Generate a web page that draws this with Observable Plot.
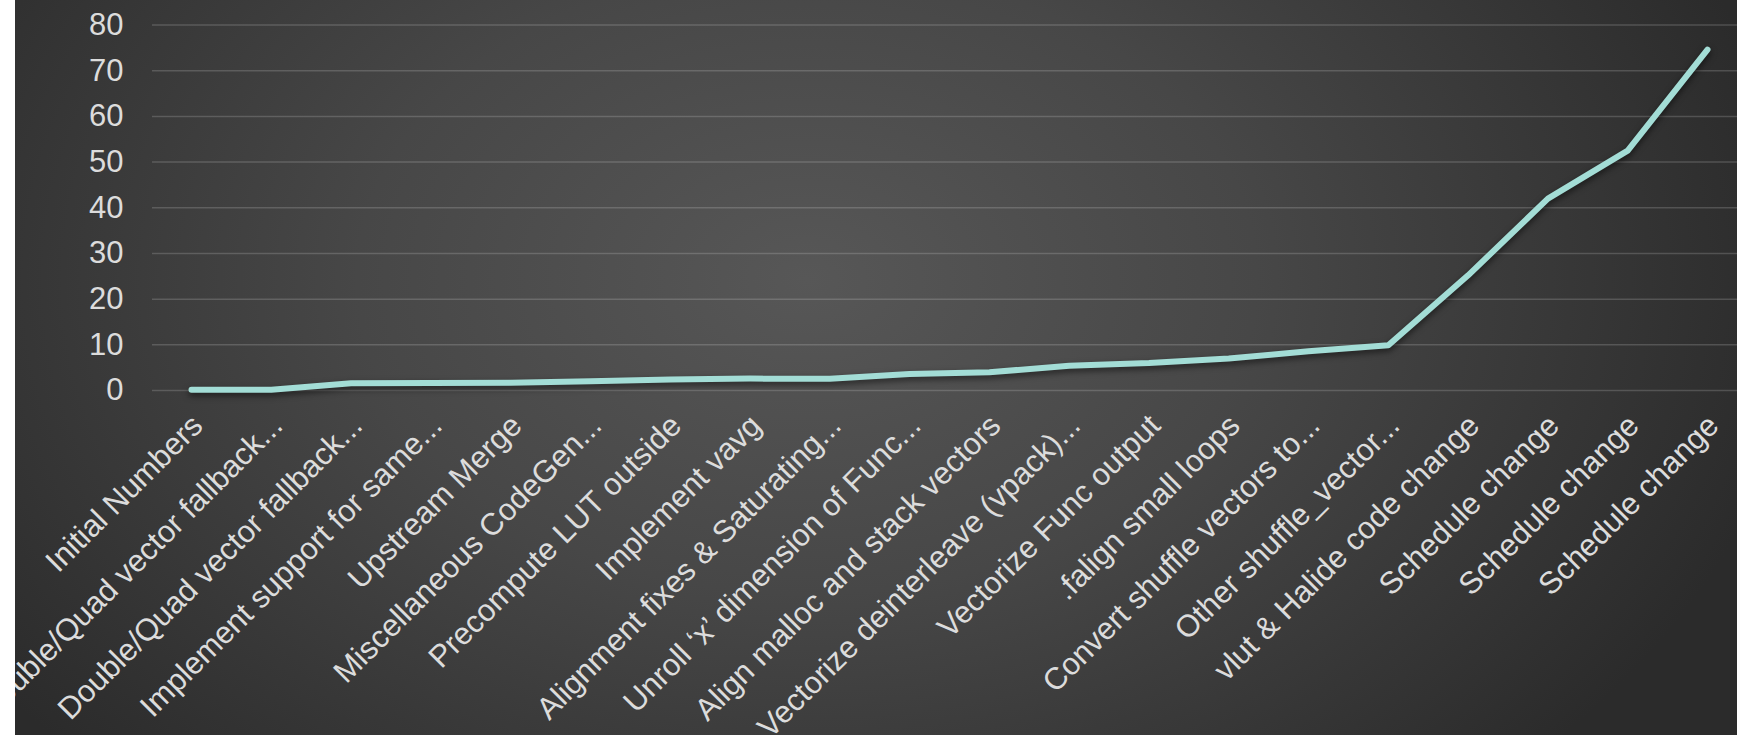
<!DOCTYPE html>
<html>
<head>
<meta charset="utf-8">
<script src="https://cdn.jsdelivr.net/npm/d3@7"></script>
<script src="https://cdn.jsdelivr.net/npm/@observablehq/plot@0.6"></script>
<style>
  html, body { margin: 0; padding: 0; background: #ffffff; overflow: hidden; }
  #chart { position: absolute; left: 15px; top: 0; width: 1722px; height: 735px; }
  #chart svg { overflow: hidden; display: block; }
</style>
</head>
<body>
<div id="chart"></div>
<script>
const categories = [
  "Initial Numbers",
  "Double/Quad vector fallback...",
  "Double/Quad vector fallback...",
  "Implement support for same...",
  "Upstream Merge",
  "Miscellaneous CodeGen...",
  "Precompute LUT outside",
  "Implement vavg",
  "Alignment fixes & Saturating...",
  "Unroll \u2018x\u2019 dimension of Func...",
  "Align malloc and stack vectors",
  "Vectorize deinterleave (vpack)...",
  "Vectorize Func output",
  ".falign small loops",
  "Convert shuffle vectors to...",
  "Other shuffle_vector...",
  "vlut & Halide code change",
  "Schedule change",
  "Schedule change",
  "Schedule change"
];
const values = [0.15, 0.15, 1.6, 1.65, 1.7, 2.0, 2.4, 2.6, 2.55, 3.6, 4.0, 5.4, 6.0, 7.0, 8.6, 9.9, 25.2, 42.0, 52.5, 74.6];
const yTicks = [0, 10, 20, 30, 40, 50, 60, 70, 80];

const data = categories.map((c, i) => ({i, label: c, value: values[i]}));
const idx = categories.map((c, i) => i);

const chart = Plot.plot({
  width: 1722,
  height: 735,
  marginLeft: 137,
  marginRight: 0,
  marginTop: 24.5,
  marginBottom: 345,
  style: {
    background: "radial-gradient(ellipse 58% 95% at 46% 38%, #575757 0%, #474747 45%, #2b2b2b 100%)",
    color: "#dcdcdc",
    fontFamily: "'Liberation Sans', Arial, sans-serif",
    fontSize: "31px",
    overflow: "hidden"
  },
  x: {type: "point", domain: idx, range: [176, 1692], padding: 0, round: false},
  y: {domain: [0, 80], ticks: yTicks},
  marks: [
    Plot.gridY(yTicks, {stroke: "#ffffff", strokeOpacity: 0.17, strokeWidth: 1.5}),
    Plot.axisY(yTicks, {tickSize: 0, tickPadding: 29, fill: "#dcdcdc", fontSize: 31, label: null}),
    Plot.axisX(idx, {
      tickSize: 0,
      tickRotate: -45,
      tickPadding: 30,
      dx: 6,
      fill: "#dcdcdc",
      fontSize: 31,
      label: null,
      tickFormat: i => categories[i]
    }),
    Plot.line(data, {x: "i", y: "value", stroke: "#a3ddd6", strokeWidth: 6, strokeLinecap: "round", strokeLinejoin: "round"})
  ]
});
chart.setAttribute("overflow", "hidden");
document.getElementById("chart").appendChild(chart);
const lineG = chart.querySelector('g[aria-label="line"]');
if (lineG) lineG.style.filter = "drop-shadow(0px 3px 3px rgba(0,0,0,0.55))";
</script>
</body>
</html>
